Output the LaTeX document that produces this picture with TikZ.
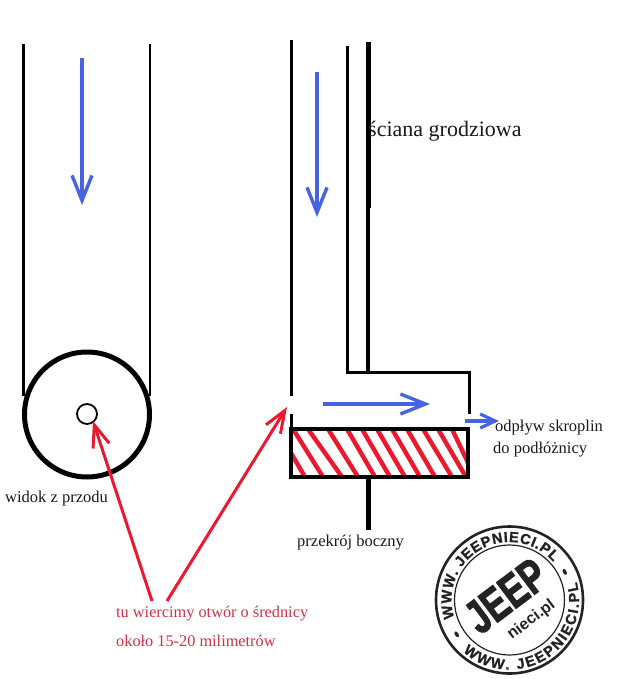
\documentclass[tikz,border=0pt]{standalone}
\usepackage{fontspec}
\setmainfont{Liberation Serif}
\setsansfont{Liberation Sans}
\newfontfamily\jeepfont[FakeBold=2.5]{Liberation Sans Bold}
\newfontfamily\ringfont[FakeBold=1.2]{Liberation Sans Bold}
\usetikzlibrary{arrows.meta,decorations.text}
\definecolor{flowblue}{RGB}{70,100,225}
\definecolor{holered}{RGB}{235,25,45}
\definecolor{notered}{RGB}{205,50,70}
\definecolor{stampgrey}{RGB}{35,35,35}
\tikzset{
  wall/.style={draw=black,line width=3pt},
  heavy/.style={draw=black,line width=4.6pt},
  flow/.style={draw=flowblue,line width=3.4pt,-{Straight Barb[length=25pt,width=20pt,line width=3.4pt]}},
  flowsmall/.style={draw=flowblue,line width=3.2pt,-{Straight Barb[length=15pt,width=14pt,line width=3.2pt]}},
  pointer/.style={draw=holered,line width=3pt,-{Straight Barb[length=22pt,width=17pt,line width=3pt]}},
  hatch/.style={draw=holered,line width=4.4pt},
  label/.style={anchor=west,inner sep=0pt,font=\fontsize{16.5}{18}\selectfont,text=black!90},
  rednote/.style={label,text=notered,font=\fontsize{16.3}{18}\selectfont},
  stampring/.style={circle,draw=stampgrey,inner sep=0pt},
  stamptext/.style={stampgrey},
}
\begin{document}
\begin{tikzpicture}[x=1pt,y=-1pt]
\useasboundingbox (0,0) rectangle (620,679);
% front view
\coordinate (ftl) at (23.5,44);
\coordinate (ftr) at (150,44);
\coordinate (fbl) at (23.5,396);
\coordinate (fbr) at (150,396);
\draw[wall,line width=2.5pt] (ftl) -- (fbl);
\draw[wall,line width=2.5pt] (ftr) -- (fbr);
\node[circle,draw=black,line width=5pt,minimum size=125pt,inner sep=0pt] (pipe) at (87,414.5) {};
\node[circle,draw=black,line width=1.8pt,minimum size=20pt,inner sep=0pt] (hole) at (87,414) {};
\coordinate (fa) at (82,58);
\coordinate (fb) at (82,205);
\draw[flow] (fa) -- (fb);
% side view walls
\coordinate (a1) at (291,40);
\coordinate (a2) at (291,396);
\coordinate (a3) at (291,414);
\coordinate (a4) at (291,430);
\draw[wall] (a1) -- (a2);
\draw[wall] (a3) -- (a4);
\coordinate (b1) at (347.5,46);
\coordinate (b2) at (347.5,372);
\coordinate (b3) at (469,372);
\coordinate (b4) at (469,414);
\draw[wall,line join=miter] (b1) -- (b2) -- (b3) -- (b4);
\coordinate (c1) at (368,42);
\coordinate (c2) at (368,208);
\coordinate (c3) at (368,372);
\draw[heavy,line width=5pt] (c1) -- (c2);
\draw[wall,line width=3.6pt] (c2) -- (c3);
% hatching
\begin{scope}
\clip (291,429) rectangle (468,477);
\foreach \xa/\xb in {293/323,308/342,328/358,347/375,362/390,377/405,392/420,407/435,423/452,438/466}
  \draw[hatch] (\xa,429) -- (\xb,477);
\draw[hatch] (291,453) -- (305,477);
\draw[hatch] (452,429) -- (470,467);
\end{scope}
% block
\coordinate (s1) at (368,477);
\coordinate (s2) at (368,530);
\node[draw=black,line width=4.6pt,minimum width=177pt,minimum height=48pt,inner sep=0pt] (block) at (379.5,453) {};
\draw[heavy,line width=5pt] (s1) -- (s2);
% flow arrows
\coordinate (d1) at (317,72);
\coordinate (d2) at (317,217);
\draw[flow] (d1) -- (d2);
\coordinate (e1) at (323,404);
\coordinate (e2) at (430,404);
\draw[flow] (e1) -- (e2);
\coordinate (g1) at (465,421);
\coordinate (g2) at (499,421);
\draw[flowsmall] (g1) -- (g2);
% labels
\node[label,font=\fontsize{22}{24}\selectfont] (wall) at (368,131) {ściana grodziowa};
\node[label] (out1) at (495,428) {odpływ skroplin};
\node[label] (out2) at (493,450) {do podłóżnicy};
\node[label] (side) at (297,543) {przekrój boczny};
\node[label] (front) at (5,499) {widok z przodu};
\node[rednote] (note1) at (116,614) {tu wiercimy otwór o średnicy};
\node[rednote] (note2) at (116,641) {około 15-20 milimetrów};
% pointers
\coordinate (p1) at (152,601);
\coordinate (p2) at (93,421);
\coordinate (p3) at (167,601);
\coordinate (p4) at (287,407);
\draw[pointer] (p1) -- (p2);
\draw[pointer] (p3) -- (p4);
% stamp
\begin{scope}[shift={(509.5,600)},x=1pt,y=1pt]
  \node[stampring,line width=2.6pt,minimum size=147pt] (outerring) at (0,0) {};
  \node[stampring,line width=1.2pt,minimum size=110pt] (innerring) at (0,0) {};
  \path[decorate,decoration={text along path,text align={fit to path},
     text={|\ringfont\fontsize{14.5}{15}\selectfont\color{stampgrey}|WWW. JEEPNIECI.PL}}]
     (198:58) arc[start angle=198,end angle=41,radius=58];
  \path[decorate,decoration={text along path,text align={fit to path},
     text={|\ringfont\fontsize{14.5}{15}\selectfont\color{stampgrey}|WWW. JEEPNIECI.PL}}]
     (228:69.5) arc[start angle=228,end angle=375,radius=69.5];
  \fill[stampgrey,shift={(27:62)},rotate=117] (0,0) ellipse[x radius=3.2pt,y radius=1.8pt];
  \fill[stampgrey,shift={(213:63)},rotate=303] (0,0) ellipse[x radius=3.2pt,y radius=1.8pt];
  \node[stamptext,rotate=37,xscale=0.74,font=\jeepfont\fontsize{47}{47}\selectfont,inner sep=0pt] (jeep) at (-3.5,4) {JEEP};
  \node[stamptext,rotate=37,font=\sffamily\bfseries\fontsize{16}{16}\selectfont,inner sep=0pt] (nieci) at (22,-20) {nieci.pl};
\end{scope}
\end{tikzpicture}
\end{document}
